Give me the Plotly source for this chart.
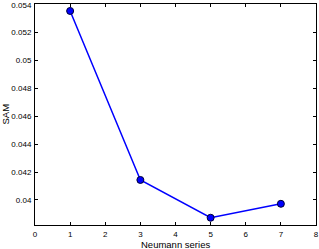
import plotly.graph_objects as go

neumann = [1, 3, 5, 7]
sam = [0.05355, 0.04143, 0.03872, 0.03972]
x_ticks = [0, 1, 2, 3, 4, 5, 6, 7, 8]
y_ticks = [0.04, 0.042, 0.044, 0.046, 0.048, 0.05, 0.052, 0.054]
y_tick_text = ["0.04", "0.042", "0.044", "0.046", "0.048", "0.05", "0.052", "0.054"]

FONT = "Liberation Sans, Arial"

fig = go.Figure()
fig.add_trace(go.Scatter(
    x=neumann, y=sam, mode="lines+markers",
    line=dict(color="#0000ff", width=1.5),
    marker=dict(color="#0000ff", size=7, line=dict(color="#000033", width=1)),
    cliponaxis=False,
))
axis_common = dict(
    showgrid=False, zeroline=False, showline=True, linecolor="black", linewidth=1,
    mirror="ticks", ticks="inside", ticklen=3, tickcolor="black", automargin=False,
    tickfont=dict(family=FONT, size=8, color="black"),
)
fig.update_xaxes(range=[0, 8], tickvals=x_ticks, ticktext=[str(v) for v in x_ticks],
                 ticklabelstandoff=1, **axis_common)
fig.update_yaxes(range=[0.0382, 0.05405], tickvals=y_ticks, ticktext=y_tick_text,
                 ticklabelstandoff=1, **axis_common)
fig.add_annotation(text="Neumann series", xref="paper", yref="paper", x=0.5, y=0,
                   yshift=-19, xanchor="center", yanchor="middle", showarrow=False,
                   font=dict(family=FONT, size=9.5, color="black"))
fig.add_annotation(text="SAM", xref="paper", yref="paper", x=0, y=0.5,
                   xshift=-30, xanchor="center", yanchor="middle", showarrow=False,
                   textangle=-90, font=dict(family=FONT, size=9.5, color="black"))
fig.update_layout(
    width=319, height=249, margin=dict(l=35, r=3, t=4, b=24),
    paper_bgcolor="white", plot_bgcolor="white", showlegend=False,
)
fig.write_html("out.html", config={"displayModeBar": False},
               post_script="document.body.style.margin='0';document.body.style.overflow='hidden';")
